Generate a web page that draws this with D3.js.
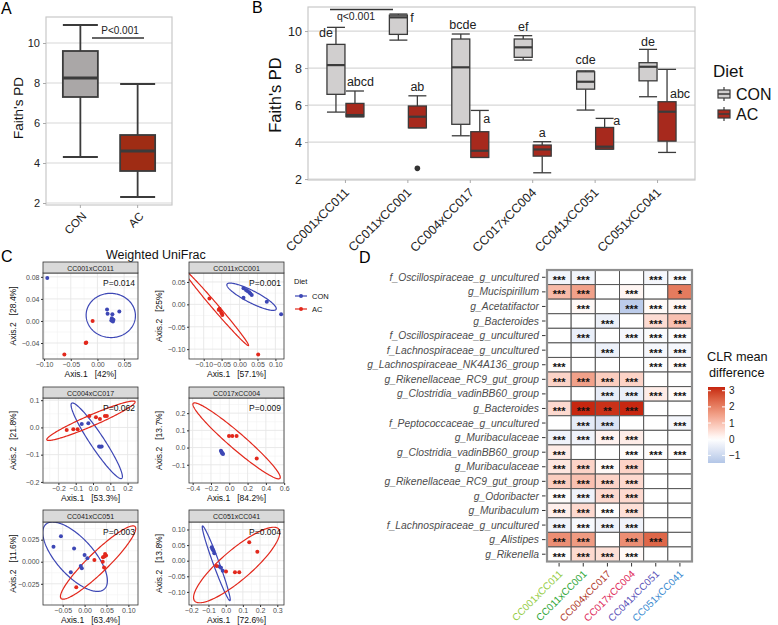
<!DOCTYPE html>
<html>
<head>
<meta charset="utf-8">
<script src="https://cdn.jsdelivr.net/npm/d3@7"></script>
<style>
  body { margin: 0; background: #fff; }
  svg { font-family: "Liberation Sans", Arial, sans-serif; }
</style>
</head>
<body>
<div id="chart"></div>
<script>
// ---------- data ----------
// boxplot stats: [lower whisker, Q1, median, Q3, upper whisker]
const A_GROUPS = ['CON', 'AC'];
const A_STATS = [[4.3, 7.3, 8.25, 9.6, 10.9], [2.3, 3.6, 4.6, 5.4, 7.95]];
const A_P_LABEL = 'P<0.001';

const B_CROSSES = ['CC001xCC011', 'CC011xCC001', 'CC004xCC017', 'CC017xCC004', 'CC041xCC051', 'CC051xCC041'];
const B_CON_STATS = [
  [5.62, 6.58, 8.16, 9.28, 10.2],
  [9.51, 9.82, 10.74, 10.86, 10.92],
  [4.34, 4.96, 8.04, 9.57, 9.84],
  [8.43, 8.58, 9.12, 9.57, 9.75],
  [5.73, 6.86, 7.26, 7.8, 7.85],
  [6.45, 7.31, 8.07, 8.29, 9.01]
];
const B_AC_STATS = [
  [5.37, 5.37, 5.46, 6.09, 6.76],
  [4.77, 4.77, 5.37, 5.95, 6.5],
  [3.17, 3.17, 3.53, 4.56, 5.71],
  [2.34, 3.24, 3.6, 3.84, 4.02],
  [3.62, 3.62, 3.75, 4.79, 5.28],
  [3.44, 4.05, 5.64, 6.18, 7.93]
];
const B_AC_OUTLIERS = [[1, 2.58]]; // [cross index, value]
const B_CON_LETTERS = ['de', 'f', 'bcde', 'ef', 'cde', 'de'];
const B_AC_LETTERS = ['abcd', 'ab', 'a', 'a', 'a', 'abc'];
const B_CON_LETTER_Y = [9.9, 10.71, 10.33, 10.22, 8.44, 9.46];
const B_AC_LETTER_Y = [7.25, 6.98, 5.3, 4.54, 5.19, 6.65];
const B_Q_LABEL = 'q<0.001';
const DIETS = ['CON', 'AC'];

// ordination panels (Weighted UniFrac)
const C_PANELS = ['CC001xCC011', 'CC011xCC001', 'CC004xCC017', 'CC017xCC004', 'CC041xCC051', 'CC051xCC041'];
const C_PVALUES = ['P=0.014', 'P=0.001', 'P=0.062', 'P=0.009', 'P=0.003', 'P=0.004'];
const C_AXIS1 = ['42%', '57.1%', '53.3%', '84.2%', '63.4%', '72.6%'];
const C_AXIS2 = ['28.4%', '25%', '21.8%', '13.7%', '11.6%', '13.8%'];
const C_XDOMAINS = [[-0.102, 0.076], [-0.141, 0.124], [-0.289, 0.26], [-0.44, 0.598], [-0.095, 0.122], [-0.213, 0.339]];
const C_YDOMAINS = [[-0.069, 0.087], [-0.122, 0.07], [-0.204, 0.108], [-0.206, 0.288], [-0.049, 0.045], [-0.142, 0.124]];
const C_XTICKS = [[-0.1, -0.05, 0, 0.05], [-0.1, -0.05, 0, 0.05, 0.1], [-0.2, -0.1, 0, 0.1, 0.2],
                  [-0.4, -0.2, 0, 0.2, 0.4, 0.6], [-0.05, 0, 0.05, 0.1], [-0.2, -0.1, 0, 0.1, 0.2, 0.3]];
const C_YTICKS = [[-0.04, 0, 0.04, 0.08], [-0.1, -0.05, 0, 0.05], [-0.2, -0.1, 0, 0.1],
                  [-0.1, 0, 0.1, 0.2], [-0.025, 0, 0.025], [-0.1, -0.05, 0, 0.05, 0.1]];
const C_XFMT = ['.2f', '.2f', '.1f', '.1f', '.2f', '.1f'];
const C_YFMT = ['.2f', '.2f', '.1f', '.1f', '.3f', '.2f'];
const C_CON_POINTS = [
  [[-0.094, 0.078], [0.018, 0.021], [0.019, 0.013], [0.028, 0.012], [0.041, 0.017], [0.027, 0.005], [0.026, 0.001], [0.029, -0.001], [0.03, 0.002]],
  [[0.011, 0.036], [0.018, 0.032], [0.027, 0.027], [0.034, 0.021], [0.011, 0.015], [0.022, 0.03], [0.03, 0.024], [0.076, 0.006], [0.116, -0.022]],
  [[-0.065, 0.013], [-0.027, 0.015], [0.035, -0.07], [0.05, -0.07], [0.042, -0.071]],
  [[-0.091, -0.019], [-0.085, -0.025], [-0.08, -0.03], [-0.075, -0.034], [-0.068, -0.038]],
  [[-0.071, 0.017], [-0.054, 0.029], [-0.024, 0.015], [0.0, 0.0076], [0.0064, 0.0039], [-0.0087, -0.0049], [-0.0064, -0.0075], [-0.0315, -0.012]],
  [[-0.081, 0.043], [-0.076, 0.037], [-0.066, 0.024], [-0.037, -0.019], [-0.027, -0.023], [-0.017, -0.032], [-0.071, 0.032]]
];
const C_AC_POINTS = [
  [[-0.009, 0.0], [-0.022, -0.04], [-0.021, -0.039], [-0.062, -0.061]],
  [[-0.084, 0.013], [-0.056, -0.01], [-0.053, -0.015], [-0.05, -0.02], [-0.058, -0.012], [-0.048, -0.024], [0.052, -0.112]],
  [[-0.152, -0.009], [-0.114, -0.007], [-0.089, -0.007], [-0.021, 0.042], [0.017, 0.037], [0.04, 0.031], [0.069, 0.042], [0.08, 0.042]],
  [[-0.003, 0.067], [0.033, 0.067], [0.08, 0.067], [0.3, -0.063]],
  [[0.0224, 0.0019], [0.0415, 0.0], [0.0468, 0.0087], [0.049, 0.007], [0.045, 0.006], [0.0445, -0.0064], [-0.019, -0.029], [0.042, 0.005]],
  [[-0.052, -0.017], [0.002, -0.035], [0.054, -0.037], [0.079, -0.037], [0.137, 0.059], [0.184, 0.029]]
];
// ellipses: centre c and two conjugate semi-axes u, v (data units)
const C_CON_ELLIPSES = [
  {c: [0.025, 0.01], u: [0.046, 0.003], v: [-0.004, 0.04]},
  {c: [0.0335, 0.017], u: [0.0685, -0.028], v: [0.0075, 0.012]},
  {c: [0.0215, -0.049], u: [0.1445, -0.138], v: [0.0336, 0.0143]},
  null,
  {c: [-0.0217, 0.0057], u: [0.0685, -0.0148], v: [-0.0274, 0.0364]},
  {c: [-0.0547, -0.0083], u: [0.0797, -0.1196], v: [0.0163, 0.0033]}
];
const C_AC_ELLIPSES = [
  null,
  {c: [-0.067, -0.006], u: [0.092, -0.086], v: [0.0064, 0.0044]},
  {c: [-0.012, 0.0245], u: [0.255, 0.07], v: [0.0127, -0.0184]},
  {c: [0.08, 0.039], u: [0.474, -0.218], v: [0.057, 0.035]},
  {c: [0.0308, -0.0009], u: [0.0845, 0.0407], v: [0.0159, -0.0082]},
  {c: [0.064, -0.0138], u: [0.244, 0.1154], v: [0.057, -0.0365]}
];

// heatmap
const D_CROSSES = ['CC001xCC011', 'CC011xCC001', 'CC004xCC017', 'CC017xCC004', 'CC041xCC051', 'CC051xCC041'];
const D_TAXA = [
  'f_Oscillospiraceae_g_uncultured', 'g_Mucispirillum', 'g_Acetatifactor', 'g_Bacteroides',
  'f_Oscillospiraceae_g_uncultured', 'f_Lachnospiraceae_g_uncultured', 'g_Lachnospiraceae_NK4A136_group',
  'g_Rikenellaceae_RC9_gut_group', 'g_Clostridia_vadinBB60_group', 'g_Bacteroides',
  'f_Peptococcaceae_g_uncultured', 'g_Muribaculaceae', 'g_Clostridia_vadinBB60_group', 'g_Muribaculaceae',
  'g_Rikenellaceae_RC9_gut_group', 'g_Odoribacter', 'g_Muribaculum', 'f_Lachnospiraceae_g_uncultured',
  'g_Alistipes', 'g_Rikenella'
];
const D_VALUES = [
  [-0.25, -0.25, null, null, -0.2, -0.1],
  [1.1, 1.5, null, 0.15, null, 2.1],
  [null, 0.1, null, -1.3, 0.08, 0.15],
  [null, null, -0.35, null, 0.55, 1.0],
  [null, -0.4, null, -0.2, -0.1, -0.05],
  [null, null, -0.35, null, -0.2, -0.2],
  [0.05, null, null, null, -0.05, 0.05],
  [0.7, 1.5, 0.8, 0.7, null, null],
  [null, null, -0.45, -0.4, 0.3, 0.05],
  [0.6, 3.2, 3.1, 3.2, null, null],
  [null, -0.5, -0.7, null, null, -0.2],
  [-0.3, -0.3, 0.2, 0.3, null, null],
  [0.3, null, null, 0.05, 0.03, 0.03],
  [0.4, 0.7, 0.1, 0.7, null, null],
  [0.8, 1.0, 0.7, 0.6, null, null],
  [0.05, -0.3, 0.6, 0.6, null, null],
  [0.25, 0.6, 0.05, 0.5, null, null],
  [-0.3, -0.15, -0.3, -0.3, null, null],
  [1.8, 1.6, null, 1.8, 2.4, null],
  [0.05, 0.6, 0.5, 0.1, null, null]
];
const D_STARS = [
  ['***', '***', '', '', '***', '***'],
  ['***', '***', '', '***', '', '*'],
  ['', '***', '', '***', '***', '***'],
  ['', '', '***', '', '***', '***'],
  ['', '***', '', '***', '***', '***'],
  ['', '', '***', '', '***', '***'],
  ['***', '', '', '', '***', '***'],
  ['***', '***', '***', '***', '', ''],
  ['', '', '***', '***', '***', '***'],
  ['***', '***', '**', '***', '', ''],
  ['', '***', '***', '', '', '***'],
  ['***', '***', '***', '***', '', ''],
  ['***', '', '', '***', '***', '***'],
  ['***', '***', '***', '***', '', ''],
  ['***', '***', '***', '***', '', ''],
  ['***', '***', '***', '***', '', ''],
  ['***', '***', '***', '***', '', ''],
  ['***', '***', '***', '***', '', ''],
  ['***', '***', '', '***', '***', ''],
  ['***', '***', '***', '***', '', '']
];
const D_LIMITS = [-1.47, 3.23];
const D_LEGEND_TICKS = [-1, 0, 1, 2, 3];

// ---------- styles ----------
const A_FILLS = {CON: '#aaa7a7', AC: '#9f2c14'};
const B_FILLS = {CON: '#d1cfcf', AC: '#a7291d'};
const C_COLORS = {CON: '#3d47b5', AC: '#e2281c'};
const D_CROSS_COLORS = ['#94cc45', '#2ea636', '#b03a2c', '#dd2a5a', '#5a52b8', '#3a8ad0'];
const BOX_STROKE = '#3b3b3b';

const svg = d3.select('#chart').append('svg').attr('width', 778).attr('height', 625);
const defs = svg.append('defs');

function panelLabel(t, x, y) {
  svg.append('text').attr('x', x).attr('y', y).attr('font-size', 16).text(t);
}

function drawBox(g, cx, w, s, fill, y, lw, mw) {
  const ln = (x1, x2, y1, y2, sw) => g.append('line')
    .attr('x1', x1).attr('x2', x2).attr('y1', y1).attr('y2', y2)
    .attr('stroke', BOX_STROKE).attr('stroke-width', sw);
  ln(cx, cx, y(s[4]), y(s[3]), lw);
  ln(cx, cx, y(s[1]), y(s[0]), lw);
  ln(cx - w / 2, cx + w / 2, y(s[4]), y(s[4]), lw);
  ln(cx - w / 2, cx + w / 2, y(s[0]), y(s[0]), lw);
  g.append('rect').attr('x', cx - w / 2).attr('y', y(s[3]))
    .attr('width', w).attr('height', y(s[1]) - y(s[3]))
    .attr('fill', fill).attr('stroke', BOX_STROKE).attr('stroke-width', lw);
  ln(cx - w / 2, cx + w / 2, y(s[2]), y(s[2]), mw);
}

// ---------- panel A ----------
const A_BOX = {left: 46, right: 172, top: 17, bottom: 205};
const yA = d3.scaleLinear().domain([1.9, 11.3]).range([A_BOX.bottom, A_BOX.top]);
const xA = d3.scalePoint().domain(A_GROUPS).range([A_BOX.left, A_BOX.right]).padding(0.6);
const gA = svg.append('g');
panelLabel('A', 1, 14);

gA.selectAll('.grid').data([2, 4, 6, 8, 10]).enter().append('line')
  .attr('x1', A_BOX.left).attr('x2', A_BOX.right)
  .attr('y1', d => yA(d)).attr('y2', d => yA(d))
  .attr('stroke', '#d7d7d7').attr('stroke-width', 1.2);
gA.append('rect').attr('x', A_BOX.left).attr('y', A_BOX.top)
  .attr('width', A_BOX.right - A_BOX.left).attr('height', A_BOX.bottom - A_BOX.top)
  .attr('fill', 'none').attr('stroke', '#c9c9c9').attr('stroke-width', 1.2);

gA.append('g').attr('transform', 'translate(' + A_BOX.left + ',0)')
  .call(d3.axisLeft(yA).tickValues([2, 4, 6, 8, 10]).tickSize(3).tickPadding(3))
  .call(g => g.select('.domain').remove())
  .call(g => g.selectAll('line').attr('stroke', '#aaa'))
  .call(g => g.selectAll('text').attr('font-size', 11).attr('fill', '#222').attr('font-family', null));

A_GROUPS.forEach((grp, i) => {
  drawBox(gA, xA(grp), 35, A_STATS[i], A_FILLS[grp], yA, 1.8, 2.8);
  gA.append('line').attr('x1', xA(grp)).attr('x2', xA(grp))
    .attr('y1', A_BOX.bottom).attr('y2', A_BOX.bottom + 3).attr('stroke', '#aaa');
  gA.append('text').attr('transform', 'translate(' + (xA(grp) + 1) + ',' + (A_BOX.bottom + 6) + ') rotate(-45)')
    .attr('text-anchor', 'end').attr('dy', '0.72em').attr('font-size', 11.5).attr('fill', '#222').text(grp);
});
gA.append('line').attr('x1', 92).attr('x2', 144).attr('y1', 38).attr('y2', 38)
  .attr('stroke', '#333').attr('stroke-width', 1.4);
gA.append('text').attr('x', 120).attr('y', 34).attr('text-anchor', 'middle')
  .attr('font-size', 10).attr('fill', '#222').text(A_P_LABEL);
gA.append('text').attr('transform', 'translate(23,108) rotate(-90)')
  .attr('text-anchor', 'middle').attr('font-size', 13.5).attr('fill', '#111').text("Faith's PD");

// ---------- panel B ----------
const B_BOX = {left: 308, right: 695, top: 7, bottom: 180};
const yB = d3.scaleLinear().domain([1.95, 11.3]).range([B_BOX.bottom, B_BOX.top]);
const xB = d3.scalePoint().domain(B_CROSSES).range([B_BOX.left, B_BOX.right]).padding(0.6);
const gB = svg.append('g');
panelLabel('B', 252, 13);

gB.selectAll('.grid').data([2, 4, 6, 8, 10]).enter().append('line')
  .attr('x1', B_BOX.left).attr('x2', B_BOX.right)
  .attr('y1', d => yB(d)).attr('y2', d => yB(d))
  .attr('stroke', '#d7d7d7').attr('stroke-width', 1.2);
gB.append('rect').attr('x', B_BOX.left).attr('y', B_BOX.top)
  .attr('width', B_BOX.right - B_BOX.left).attr('height', B_BOX.bottom - B_BOX.top)
  .attr('fill', 'none').attr('stroke', '#c9c9c9').attr('stroke-width', 1.2);

gB.append('g').attr('transform', 'translate(' + B_BOX.left + ',0)')
  .call(d3.axisLeft(yB).tickValues([2, 4, 6, 8, 10]).tickSize(3).tickPadding(3))
  .call(g => g.select('.domain').remove())
  .call(g => g.selectAll('line').attr('stroke', '#aaa'))
  .call(g => g.selectAll('text').attr('font-size', 12.5).attr('fill', '#222').attr('font-family', null));

const B_OFF = 9.5, B_W = 18;
B_CROSSES.forEach((c, i) => {
  const x = xB(c);
  drawBox(gB, x - B_OFF, B_W, B_CON_STATS[i], B_FILLS.CON, yB, 1.3, 2.2);
  drawBox(gB, x + B_OFF, B_W, B_AC_STATS[i], B_FILLS.AC, yB, 1.3, 2.2);
  gB.append('line').attr('x1', x).attr('x2', x)
    .attr('y1', B_BOX.bottom).attr('y2', B_BOX.bottom + 3).attr('stroke', '#aaa');
  gB.append('text').attr('transform', 'translate(' + (x - 2) + ',' + (B_BOX.bottom + 7) + ') rotate(-45)')
    .attr('text-anchor', 'end').attr('dy', '0.72em').attr('font-size', 12.5).attr('fill', '#222').text(c);
});
B_AC_OUTLIERS.forEach(o => {
  gB.append('circle').attr('cx', xB(B_CROSSES[o[0]]) + B_OFF).attr('cy', yB(o[1]))
    .attr('r', 2.8).attr('fill', '#333');
});
// letter nudges in px relative to each box
const CON_NUDGE = [-10, 13.5, 2, 0, 0, 0];
const AC_NUDGE = [5.5, 0, 7, 0, 12, 13];
B_CROSSES.forEach((c, i) => {
  gB.append('text').attr('x', xB(c) - B_OFF + CON_NUDGE[i]).attr('y', yB(B_CON_LETTER_Y[i]) + 4.5)
    .attr('text-anchor', 'middle').attr('font-size', 12.5).attr('fill', '#222').text(B_CON_LETTERS[i]);
  gB.append('text').attr('x', xB(c) + B_OFF + AC_NUDGE[i]).attr('y', yB(B_AC_LETTER_Y[i]) + 4.5)
    .attr('text-anchor', 'middle').attr('font-size', 12.5).attr('fill', '#222').text(B_AC_LETTERS[i]);
});
gB.append('line').attr('x1', 330).attr('x2', 393).attr('y1', 9.5).attr('y2', 9.5)
  .attr('stroke', '#333').attr('stroke-width', 1.4);
gB.append('text').attr('x', 356).attr('y', 20).attr('text-anchor', 'middle')
  .attr('font-size', 10.5).attr('fill', '#222').text(B_Q_LABEL);
gB.append('text').attr('transform', 'translate(281,95) rotate(-90)')
  .attr('text-anchor', 'middle').attr('font-size', 16.5).attr('fill', '#111').text("Faith's PD");

// legend B
const lgB = svg.append('g');
lgB.append('text').attr('x', 713).attr('y', 77).attr('font-size', 17).attr('fill', '#111').text('Diet');
DIETS.forEach((d, i) => {
  const ky = 87 + i * 20;
  lgB.append('line').attr('x1', 724).attr('x2', 724).attr('y1', ky).attr('y2', ky + 14)
    .attr('stroke', BOX_STROKE).attr('stroke-width', 1.2);
  lgB.append('rect').attr('x', 718).attr('y', ky + 3).attr('width', 12).attr('height', 8)
    .attr('fill', B_FILLS[d]).attr('stroke', BOX_STROKE).attr('stroke-width', 1.2);
  lgB.append('line').attr('x1', 718).attr('x2', 730).attr('y1', ky + 7).attr('y2', ky + 7)
    .attr('stroke', BOX_STROKE).attr('stroke-width', 1.5);
  lgB.append('text').attr('x', 736).attr('y', ky + 13).attr('font-size', 16).attr('fill', '#111').text(d);
});

// ---------- panel C ----------
const gC = svg.append('g');
panelLabel('C', 1, 262);
gC.append('text').attr('x', 106).attr('y', 259).attr('font-size', 12.5).attr('fill', '#111').text('Weighted UniFrac');

const C_COLS = [[43, 138], [189, 284]];
const C_ROWS = [[262, 273, 359], [387, 398, 483], [510, 522, 605]]; // strip top, plot top, plot bottom

C_PANELS.forEach((name, i) => {
  const col = C_COLS[i % 2], row = C_ROWS[Math.floor(i / 2)];
  const x = d3.scaleLinear().domain(C_XDOMAINS[i]).range(col);
  const y = d3.scaleLinear().domain(C_YDOMAINS[i]).range([row[2], row[1]]);
  const g = gC.append('g');
  const clipId = 'clip' + i;
  defs.append('clipPath').attr('id', clipId).append('rect')
    .attr('x', col[0]).attr('y', row[1]).attr('width', col[1] - col[0]).attr('height', row[2] - row[1]);

  // grid (major + minor)
  const minors = (ticks, dom) => {
    const step = ticks[1] - ticks[0];
    const out = [];
    for (let t = ticks[0] - step / 2; t <= dom[1]; t += step) if (t >= dom[0]) out.push(t);
    return out;
  };
  const grid = g.append('g');
  minors(C_XTICKS[i], C_XDOMAINS[i]).forEach(t => grid.append('line')
    .attr('x1', x(t)).attr('x2', x(t)).attr('y1', row[1]).attr('y2', row[2]).attr('stroke', '#f2f2f2').attr('stroke-width', 0.6));
  minors(C_YTICKS[i], C_YDOMAINS[i]).forEach(t => grid.append('line')
    .attr('y1', y(t)).attr('y2', y(t)).attr('x1', col[0]).attr('x2', col[1]).attr('stroke', '#f2f2f2').attr('stroke-width', 0.6));
  C_XTICKS[i].forEach(t => grid.append('line')
    .attr('x1', x(t)).attr('x2', x(t)).attr('y1', row[1]).attr('y2', row[2]).attr('stroke', '#e6e6e6').attr('stroke-width', 0.9));
  C_YTICKS[i].forEach(t => grid.append('line')
    .attr('y1', y(t)).attr('y2', y(t)).attr('x1', col[0]).attr('x2', col[1]).attr('stroke', '#e6e6e6').attr('stroke-width', 0.9));

  // ellipses and points
  const body = g.append('g').attr('clip-path', 'url(#' + clipId + ')');
  const ell = e => {
    const pts = d3.range(0, 2 * Math.PI, Math.PI / 90).map(t => [
      x(e.c[0] + e.u[0] * Math.cos(t) + e.v[0] * Math.sin(t)),
      y(e.c[1] + e.u[1] * Math.cos(t) + e.v[1] * Math.sin(t))
    ]);
    return d3.line().curve(d3.curveLinearClosed)(pts);
  };
  [['CON', C_CON_ELLIPSES[i]], ['AC', C_AC_ELLIPSES[i]]].forEach(([d, e]) => {
    if (e) body.append('path').attr('d', ell(e)).attr('fill', 'none')
      .attr('stroke', C_COLORS[d]).attr('stroke-width', 1.2);
  });
  [['CON', C_CON_POINTS[i]], ['AC', C_AC_POINTS[i]]].forEach(([d, pts]) => {
    body.selectAll('.p' + d).data(pts).enter().append('circle')
      .attr('cx', p => x(p[0])).attr('cy', p => y(p[1])).attr('r', 2)
      .attr('fill', C_COLORS[d]);
  });

  g.append('text').attr('x', col[1] - 3).attr('y', row[1] + 13).attr('text-anchor', 'end')
    .attr('font-size', 8.5).attr('fill', '#111').text(C_PVALUES[i]);

  // frame and strip
  g.append('rect').attr('x', col[0]).attr('y', row[1]).attr('width', col[1] - col[0]).attr('height', row[2] - row[1])
    .attr('fill', 'none').attr('stroke', '#333').attr('stroke-width', 0.8);
  g.append('rect').attr('x', col[0]).attr('y', row[0]).attr('width', col[1] - col[0]).attr('height', row[1] - row[0])
    .attr('fill', '#d9d9d9').attr('stroke', '#333').attr('stroke-width', 0.8);
  g.append('text').attr('x', (col[0] + col[1]) / 2).attr('y', row[0] + 8.6).attr('text-anchor', 'middle')
    .attr('font-size', 7).attr('fill', '#1a1a1a').text(name);

  // axes
  const styleAxis = a => a
    .call(s => s.select('.domain').remove())
    .call(s => s.selectAll('line').attr('stroke', '#333'))
    .call(s => s.selectAll('text').attr('font-size', 7).attr('fill', '#4d4d4d').attr('font-family', null));
  g.append('g').attr('transform', 'translate(0,' + row[2] + ')')
    .call(d3.axisBottom(x).tickValues(C_XTICKS[i]).tickFormat(d3.format(C_XFMT[i])).tickSize(2).tickPadding(1))
    .call(styleAxis);
  g.append('g').attr('transform', 'translate(' + col[0] + ',0)')
    .call(d3.axisLeft(y).tickValues(C_YTICKS[i]).tickFormat(d3.format(C_YFMT[i])).tickSize(2).tickPadding(1.5))
    .call(styleAxis);
  g.append('text').attr('x', (col[0] + col[1]) / 2).attr('y', row[2] + 18).attr('text-anchor', 'middle')
    .attr('font-size', 8.5).attr('fill', '#111').attr('xml:space', 'preserve')
    .text('Axis.1   [' + C_AXIS1[i] + ']');
  g.append('text').attr('transform', 'translate(' + (col[0] - 27) + ',' + ((row[1] + row[2]) / 2) + ') rotate(-90)')
    .attr('text-anchor', 'middle').attr('font-size', 8.5).attr('fill', '#111').attr('xml:space', 'preserve')
    .text('Axis.2   [' + C_AXIS2[i] + ']');
});

// legend C
const lgC = svg.append('g');
lgC.append('text').attr('x', 294).attr('y', 284).attr('font-size', 7.5).attr('fill', '#111').text('Diet');
DIETS.forEach((d, i) => {
  const ky = 296 + i * 13;
  lgC.append('line').attr('x1', 295).attr('x2', 307).attr('y1', ky).attr('y2', ky)
    .attr('stroke', C_COLORS[d]).attr('stroke-width', 1.2);
  lgC.append('circle').attr('cx', 301).attr('cy', ky).attr('r', 2).attr('fill', C_COLORS[d]);
  lgC.append('text').attr('x', 312).attr('y', ky + 2.6).attr('font-size', 7.5).attr('fill', '#111').text(d);
});

// ---------- panel D ----------
const gD = svg.append('g');
panelLabel('D', 359, 263);
const D_BOX = {left: 547, right: 692, top: 270, bottom: 561.5};
const xD = d3.scaleBand().domain(D_CROSSES).range([D_BOX.left, D_BOX.right]);
const yD = d3.scaleBand().domain(d3.range(D_TAXA.length)).range([D_BOX.top, D_BOX.bottom]);
const colorD = d3.scaleLinear().domain([D_LIMITS[0], 0, D_LIMITS[1]]).range(['#b3c6e7', '#ffffff', '#c6230e'])
  .interpolate(d3.interpolateLab);

D_VALUES.forEach((row, r) => {
  row.forEach((v, c) => {
    const cx = xD(D_CROSSES[c]), cy = yD(r);
    gD.append('rect').attr('x', cx).attr('y', cy).attr('width', xD.bandwidth()).attr('height', yD.bandwidth())
      .attr('fill', v == null ? '#ffffff' : colorD(v)).attr('stroke', '#555').attr('stroke-width', 1);
    if (D_STARS[r][c]) {
      gD.append('text').attr('x', cx + xD.bandwidth() / 2).attr('y', cy + yD.bandwidth() / 2 + 6.5)
        .attr('text-anchor', 'middle').attr('font-size', 11).attr('font-weight', 'bold')
        .attr('fill', '#111').text(D_STARS[r][c]);
    }
  });
});
gD.append('rect').attr('x', D_BOX.left).attr('y', D_BOX.top)
  .attr('width', D_BOX.right - D_BOX.left).attr('height', D_BOX.bottom - D_BOX.top)
  .attr('fill', 'none').attr('stroke', '#8f8f8f').attr('stroke-width', 2.2);

D_TAXA.forEach((t, r) => {
  const cy = yD(r) + yD.bandwidth() / 2;
  gD.append('line').attr('x1', D_BOX.left - 5).attr('x2', D_BOX.left - 1.5).attr('y1', cy).attr('y2', cy)
    .attr('stroke', '#333');
  gD.append('text').attr('x', D_BOX.left - 8).attr('y', cy + 3.6).attr('text-anchor', 'end')
    .attr('font-size', 10.3).attr('font-style', 'italic').attr('fill', '#4d4d4d').text(t);
});
D_CROSSES.forEach((c, i) => {
  const cx = xD(c) + xD.bandwidth() / 2;
  gD.append('line').attr('x1', cx).attr('x2', cx).attr('y1', D_BOX.bottom + 1.5).attr('y2', D_BOX.bottom + 5)
    .attr('stroke', '#333');
  gD.append('text').attr('transform', 'translate(' + (cx - 1) + ',' + (D_BOX.bottom + 8) + ') rotate(-45)')
    .attr('text-anchor', 'end').attr('dy', '0.72em').attr('font-size', 10)
    .attr('fill', D_CROSS_COLORS[i]).text(c);
});

// legend D
const lgD = svg.append('g');
lgD.append('text').attr('x', 707).attr('y', 361).attr('font-size', 12.7).attr('fill', '#111').text('CLR mean');
lgD.append('text').attr('x', 709).attr('y', 377).attr('font-size', 12.7).attr('fill', '#111').text('difference');
const legY = d3.scaleLinear().domain(D_LIMITS).range([463, 387]);
const grad = defs.append('linearGradient').attr('id', 'clrGrad')
  .attr('x1', 0).attr('x2', 0).attr('y1', 1).attr('y2', 0);
d3.range(0, 1.0001, 0.05).forEach(t => {
  grad.append('stop').attr('offset', t).attr('stop-color', colorD(D_LIMITS[0] + t * (D_LIMITS[1] - D_LIMITS[0])));
});
lgD.append('rect').attr('x', 708).attr('y', 387).attr('width', 17).attr('height', 76).attr('fill', 'url(#clrGrad)');
D_LEGEND_TICKS.forEach(t => {
  const ty = legY(t);
  lgD.append('line').attr('x1', 708).attr('x2', 711).attr('y1', ty).attr('y2', ty).attr('stroke', '#fff');
  lgD.append('line').attr('x1', 722).attr('x2', 725).attr('y1', ty).attr('y2', ty).attr('stroke', '#fff');
  lgD.append('text').attr('x', 729).attr('y', ty + 3.6).attr('font-size', 10).attr('fill', '#222')
    .text(d3.format('d')(t));
});
</script>
</body>
</html>
